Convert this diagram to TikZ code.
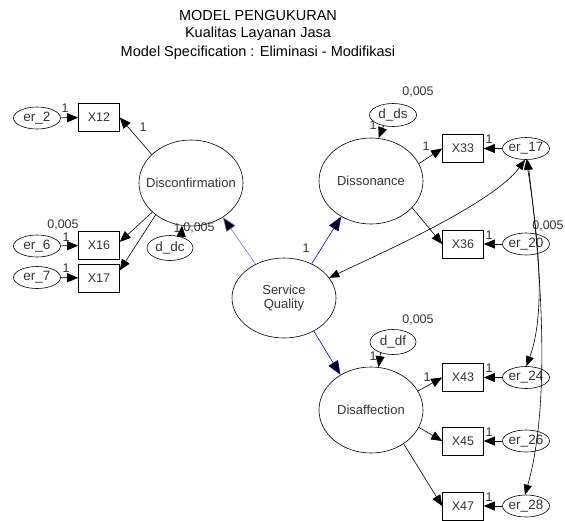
\documentclass[tikz,border=0pt]{standalone}
\usepackage{fontspec}
\setmainfont{Liberation Sans}
\usetikzlibrary{shapes.geometric,arrows.meta}
\newcommand\zb[1]{\makebox[0pt]{#1}}
\begin{document}
\begin{tikzpicture}[x=1pt,y=-1pt,line width=0.6pt,
  every node/.style={font=\fontsize{12.5}{14}\selectfont, text=black!80},
  lat/.style={ellipse,draw,minimum width=104pt,minimum height=86pt,inner sep=0pt,font=\fontsize{13}{15}\selectfont},
  obs/.style={rectangle,draw,minimum width=41pt,minimum height=28pt,inner sep=0pt},
  err/.style={ellipse,draw,minimum width=47pt,minimum height=22pt,inner sep=0pt,font=\fontsize{13.5}{15}\selectfont},
  dist/.style={ellipse,draw,minimum width=46pt,minimum height=25pt,inner sep=0pt,font=\fontsize{13.5}{15}\selectfont},
  lbl/.style={inner sep=0pt},
  ttl/.style={font=\fontsize{14.5}{17}\selectfont,text=black},
  arr/.style={draw=black,-{Triangle[length=11pt,width=9pt]}},
  sarr/.style={-{Triangle[length=14pt,width=11pt,fill=black]}},
  cov/.style={draw=black,{Triangle[length=10pt,width=8pt]}-{Triangle[length=10pt,width=8pt]}},
]
\useasboundingbox (0,0) rectangle (565,520);
% title
\node[ttl] (t1) at (258,15.5) {MODEL PENGUKURAN};
\node[ttl] (t2) at (258,34) {Kualitas Layanan Jasa};
\node[ttl] (t3) at (258,53) {Model Specification : Eliminasi - Modifikasi};
% left
\node[err] (er2) at (37,118) {\zb{er\_2}};
\node[obs] (X12) at (99,117.5) {X12};
\node[err] (er6) at (37,246) {\zb{er\_6}};
\node[obs] (X16) at (99,245.5) {X16};
\node[err] (er7) at (37,277.5) {\zb{er\_7}};
\node[obs] (X17) at (99,278) {X17};
\node[lat] (dc) at (191,183) {\zb{Disconfirmation}};
\node[dist] (ddc) at (170,248) {\zb{d\_dc}};
% centre
\node[lat,minimum height=80pt] (sq) at (284,298) {\zb{\begin{tabular}{@{}c@{}}Service\\[-1pt]Quality\end{tabular}}};
% right top
\node[lat] (ds) at (371,181) {\zb{Dissonance}};
\node[dist,minimum width=47pt,minimum height=23pt] (dds) at (393,115) {\zb{d\_ds}};
\node[obs] (X33) at (463,148.5) {X33};
\node[err] (er17) at (526,148.5) {\zb{er\_17}};
\node[obs] (X36) at (463,244) {X36};
\node[err] (er20) at (526,244) {\zb{er\_20}};
% right bottom
\node[lat] (df) at (371,410) {\zb{Disaffection}};
\node[dist] (ddf) at (393,342) {\zb{d\_df}};
\node[obs] (X43) at (463,377.5) {X43};
\node[err] (er24) at (526,377.5) {\zb{er\_24}};
\node[obs] (X45) at (463,441) {X45};
\node[err] (er26) at (526,441) {\zb{er\_26}};
\node[obs] (X47) at (463,506) {X47};
\node[err] (er28) at (526,506) {\zb{er\_28}};
% labels
\node[lbl] (l1) at (65,108) {1};
\node[lbl] (l2) at (143,127) {1};
\node[lbl] (l3) at (63,225) {0,005};
\node[lbl] (l4) at (66,237) {1};
\node[lbl] (l5) at (66,268) {1};
\node[lbl] (l6) at (177,228) {1};
\node[lbl] (l7) at (199,228) {0,005};
\node[lbl] (l8) at (418,92) {0,005};
\node[lbl] (l9) at (373,125) {1};
\node[lbl] (l10) at (426,146) {1};
\node[lbl] (l11) at (489,139) {1};
\node[lbl] (l12) at (489,235) {1};
\node[lbl] (l13) at (548,226) {0,005};
\node[lbl] (l14) at (306,248) {1};
\node[lbl] (l15) at (418,320) {0,005};
\node[lbl] (l16) at (373,356) {1};
\node[lbl] (l17) at (427,377) {1};
\node[lbl] (l18) at (489,368) {1};
\node[lbl] (l19) at (489,432) {1};
\node[lbl] (l20) at (489,497) {1};
% measurement arrows
\draw[arr] (er2) -- (X12);
\draw[arr] (dc.144) -- (X12.east);
\draw[arr] (er6) -- (X16);
\draw[arr] (dc.217) -- (X16.10);
\draw[arr] (er7) -- (X17);
\draw[arr] (dc.222) -- (X17.20);
\draw[arr] (ddc.45) -- (dc.-102);
\draw[arr] (dds.-131) -- (ds.80);
\draw[arr] (ds.20) -- (X33.west);
\draw[arr] (er17) -- (X33);
\draw[arr] (ds.-33) -- (X36.west);
\draw[arr] (er20) -- (X36);
\draw[arr] (ddf.-139) -- (df.80);
\draw[arr] (df.22) -- (X43.west);
\draw[arr] (df.-20) -- (X45.west);
\draw[arr] (df.-46) -- (X47.west);
\draw[arr] (er24) -- (X43);
\draw[arr] (er26) -- (X45);
\draw[arr] (er28) -- (X47);
% structural arrows
\draw[sarr,draw=blue!55] (sq.130) -- (dc.-47);
\draw[sarr,draw=blue] (sq.51) -- (ds.-130);
\draw[sarr,draw=blue] (sq.-48) -- (df.131);
% covariances
\draw[cov] (er17.-95) .. controls (492,205) and (370,258) .. (sq.24);
\draw[cov] (er17.-88) .. controls (537,230) and (547,310) .. (er24.88);
\draw[cov] (er17.-82) .. controls (540,260) and (552,400) .. (er28.95);
\end{tikzpicture}
\end{document}
